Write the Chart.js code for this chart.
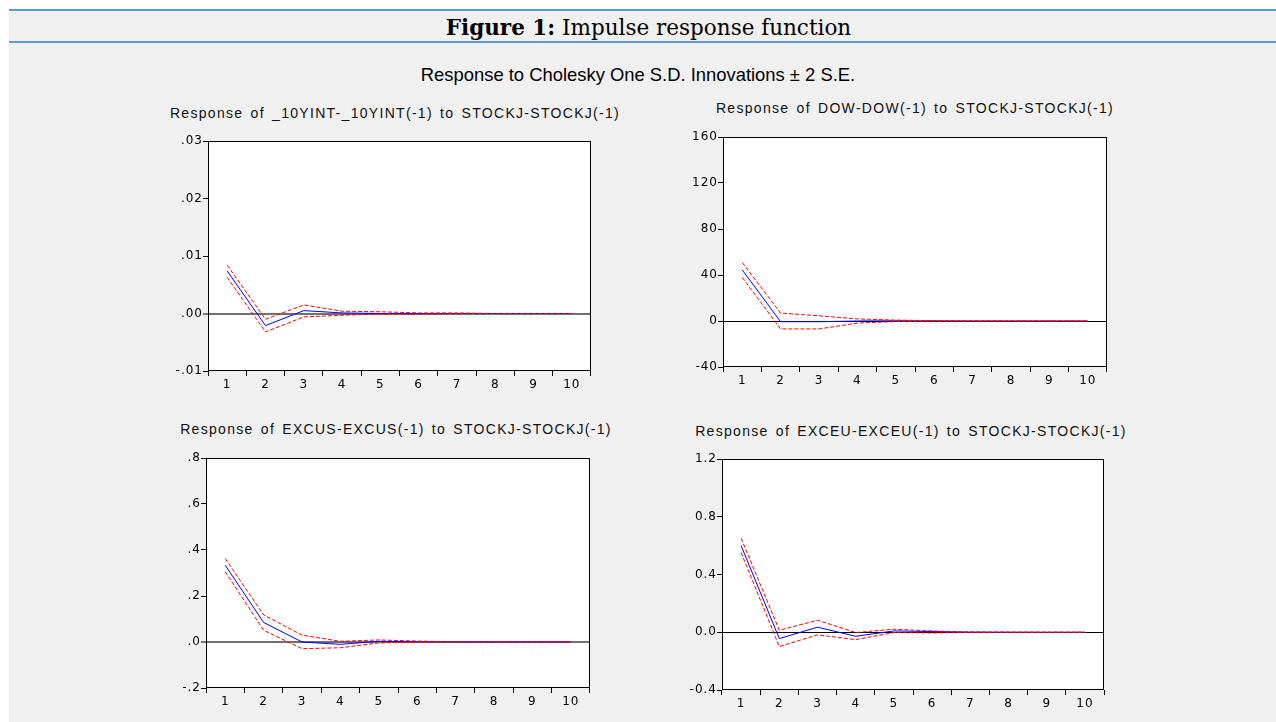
<!DOCTYPE html>
<html>
<head>
<meta charset="utf-8">
<title>Impulse response function</title>
<script src="https://cdn.jsdelivr.net/npm/chart.js@4.4.1/dist/chart.umd.min.js"></script>
<style>
  html, body { margin: 0; padding: 0; }
  body {
    width: 1276px; height: 722px; position: relative; overflow: hidden;
    background: #fff; font-family: "Liberation Sans", Arial, sans-serif; color: #000;
  }
  #sheet { position: absolute; left: 9px; top: 10px; right: 0; bottom: 0; background: #f0f0f0; }
  .rule { position: absolute; left: 9px; right: 0; height: 2px; background: #5b9bd5; }
  #figTitle {
    position: absolute; left: 21px; right: 0; top: 14px; text-align: center;
    font-family: "DejaVu Serif", serif; font-size: 21.5px; line-height: 28px;
  }
  #subTitle { position: absolute; left: 0; width: 1276px; top: 64px; text-align: center; font-size: 18.4px; }
  .ptitle {
    position: absolute; white-space: nowrap; font-size: 14px; letter-spacing: 1.3px; word-spacing: 2px;
    transform: translate(-50%, -50%); color: #111;
  }
  canvas { position: absolute; }
</style>
</head>
<body>
<div id="sheet"></div>
<div class="rule" style="top:9px"></div>
<div class="rule" style="top:41px"></div>
<div id="figTitle"><b>Figure 1:</b> Impulse response function</div>
<div id="subTitle">Response to Cholesky One S.D. Innovations ± 2 S.E.</div>

<script>
/* ===============================
   DATA
================================ */

const steps = ["1", "2", "3", "4", "5", "6", "7", "8", "9", "10"];

// _10YINT-_10YINT(-1)
const irfRate = [0.0074, -0.0021, 0.0005, 0.0001, 0.0000, 0.0000, 0.0000, 0.0000, 0.0000, 0.0000];
const upRate  = [0.0084, -0.0010, 0.0015, 0.0004, 0.0003, 0.0001, 0.0001, 0.0000, 0.0000, 0.0000];
const loRate  = [0.0063, -0.0032, -0.0006, -0.0003, -0.0001, -0.0001, 0.0000, 0.0000, 0.0000, 0.0000];
const yValsRate = [-0.01, 0, 0.01, 0.02, 0.03];
const yLabsRate = ["-.01", ".00", ".01", ".02", ".03"];

// DOW-DOW(-1)
const irfDow = [44.5, -0.6, -0.6, 0.0, 0.2, 0.1, 0.0, 0.0, 0.0, 0.0];
const upDow  = [50.9, 6.9, 4.5, 1.8, 0.8, 0.3, 0.1, 0.0, 0.0, 0.0];
const loDow  = [37.9, -6.9, -6.9, -1.8, -0.5, -0.2, -0.1, 0.0, 0.0, 0.0];
const yValsDow = [-40, 0, 40, 80, 120, 160];
const yLabsDow = ["-40", "0", "40", "80", "120", "160"];

// EXCUS-EXCUS(-1)
const irfUs = [0.334, 0.085, 0.000, -0.010, 0.003, 0.001, 0.000, 0.000, 0.000, 0.000];
const upUs  = [0.363, 0.118, 0.030, 0.003, 0.009, 0.004, 0.001, 0.000, 0.000, 0.000];
const loUs  = [0.306, 0.051, -0.029, -0.025, -0.004, -0.001, 0.000, 0.000, 0.000, 0.000];
const yValsUs = [-0.2, 0, 0.2, 0.4, 0.6, 0.8];
const yLabsUs = ["-.2", ".0", ".2", ".4", ".6", ".8"];

// EXCEU-EXCEU(-1)
const irfEu = [0.600, -0.044, 0.035, -0.028, 0.009, 0.005, 0.001, 0.000, 0.000, 0.000];
const upEu  = [0.651, 0.014, 0.083, -0.002, 0.021, 0.009, 0.002, 0.001, 0.000, 0.000];
const loEu  = [0.552, -0.099, -0.018, -0.051, -0.002, -0.005, -0.001, 0.000, 0.000, 0.000];
const yValsEu = [-0.4, 0, 0.4, 0.8, 1.2];
const yLabsEu = ["-0.4", "0.0", "0.4", "0.8", "1.2"];

/* ===============================
   PANEL LAYOUT
================================ */

const panels = [
  { title: "Response of _10YINT-_10YINT(-1) to STOCKJ-STOCKJ(-1)",
    irf: irfRate, up: upRate, lo: loRate, yVals: yValsRate, yLabs: yLabsRate,
    box: [208, 141, 591, 371], titleAt: [395, 113], zero: "#707070", zeroW: 2 },
  { title: "Response of DOW-DOW(-1) to STOCKJ-STOCKJ(-1)",
    irf: irfDow, up: upDow, lo: loDow, yVals: yValsDow, yLabs: yLabsDow,
    box: [723, 137, 1107, 367], titleAt: [915, 108], zero: "#000", zeroW: 1 },
  { title: "Response of EXCUS-EXCUS(-1) to STOCKJ-STOCKJ(-1)",
    irf: irfUs, up: upUs, lo: loUs, yVals: yValsUs, yLabs: yLabsUs,
    box: [206, 458, 590, 688], titleAt: [396, 429], zero: "#707070", zeroW: 2 },
  { title: "Response of EXCEU-EXCEU(-1) to STOCKJ-STOCKJ(-1)",
    irf: irfEu, up: upEu, lo: loEu, yVals: yValsEu, yLabs: yLabsEu,
    box: [722, 459, 1104, 690], titleAt: [911, 431], zero: "#000", zeroW: 1 }
];

const Y_AXIS_W = 50, X_AXIS_H = 30, PAD_TOP = 10, PAD_RIGHT = 6, PAD_BOTTOM = 2;
const tickFont = { family: "DejaVu Sans", size: 12 };

// white plot area + black frame, slightly spaced tick text
const framePlugin = {
  id: "frame",
  beforeDraw(chart) {
    const a = chart.chartArea, ctx = chart.ctx;
    ctx.save();
    ctx.fillStyle = "#fff";
    ctx.fillRect(a.left, a.top, a.right - a.left, a.bottom - a.top);
    ctx.restore();
    ctx.letterSpacing = "1px";
  },
  afterDraw(chart) {
    const a = chart.chartArea, ctx = chart.ctx;
    ctx.save();
    ctx.strokeStyle = "#000";
    ctx.lineWidth = 1;
    ctx.strokeRect(Math.round(a.left) + 0.5, Math.round(a.top) + 0.5,
      Math.round(a.right - a.left) - 1, Math.round(a.bottom - a.top) - 1);
    ctx.restore();
  }
};

function makePanel(p) {
  const [L, T, R, B] = p.box;

  const head = document.createElement("div");
  head.className = "ptitle";
  head.style.left = p.titleAt[0] + "px";
  head.style.top = p.titleAt[1] + "px";
  head.textContent = p.title;
  document.body.appendChild(head);

  const canvas = document.createElement("canvas");
  const w = R - L + Y_AXIS_W + PAD_RIGHT;
  const h = B - T + PAD_TOP + X_AXIS_H + PAD_BOTTOM;
  canvas.width = w;
  canvas.height = h;
  canvas.style.left = (L - Y_AXIS_W) + "px";
  canvas.style.top = (T - PAD_TOP) + "px";
  canvas.style.width = w + "px";
  canvas.style.height = h + "px";
  document.body.appendChild(canvas);

  const band = { borderColor: "#ff0000", borderWidth: 1, borderDash: [4, 2], pointRadius: 0, tension: 0, fill: false };

  new Chart(canvas, {
    type: "line",
    data: {
      labels: steps,
      datasets: [
        { ...band, label: "+2 S.E.", data: p.up },
        { ...band, label: "-2 S.E.", data: p.lo },
        { label: "Response", data: p.irf, borderColor: "#0000ff", borderWidth: 1, pointRadius: 0, tension: 0, fill: false }
      ]
    },
    options: {
      responsive: false,
      animation: false,
      events: [],
      layout: { padding: { left: 0, right: PAD_RIGHT, top: PAD_TOP, bottom: PAD_BOTTOM } },
      plugins: { legend: { display: false }, title: { display: false }, tooltip: { enabled: false } },
      scales: {
        x: {
          type: "category",
          offset: true,
          border: { display: false },
          grid: { offset: true, drawOnChartArea: false, drawTicks: true, tickLength: 5, color: "#000" },
          ticks: { color: "#000", padding: 2, maxRotation: 0, autoSkip: false, font: tickFont },
          afterFit(scale) { scale.height = X_AXIS_H; }
        },
        y: {
          min: p.yVals[0],
          max: p.yVals[p.yVals.length - 1],
          border: { display: false },
          afterBuildTicks(scale) { scale.ticks = p.yVals.map(v => ({ value: v })); },
          grid: {
            drawOnChartArea: true,
            drawTicks: true,
            tickLength: 5,
            tickColor: "#000",
            tickWidth: 1,
            color: c => (c.tick && c.tick.value === 0 ? p.zero : "rgba(0,0,0,0)"),
            lineWidth: c => (c.tick && c.tick.value === 0 ? p.zeroW : 1)
          },
          ticks: {
            color: "#000",
            padding: 0,
            font: tickFont,
            callback: (v, i) => p.yLabs[i]
          },
          afterFit(scale) { scale.width = Y_AXIS_W; }
        }
      }
    },
    plugins: [framePlugin]
  });
}

panels.forEach(makePanel);
</script>
</body>
</html>
